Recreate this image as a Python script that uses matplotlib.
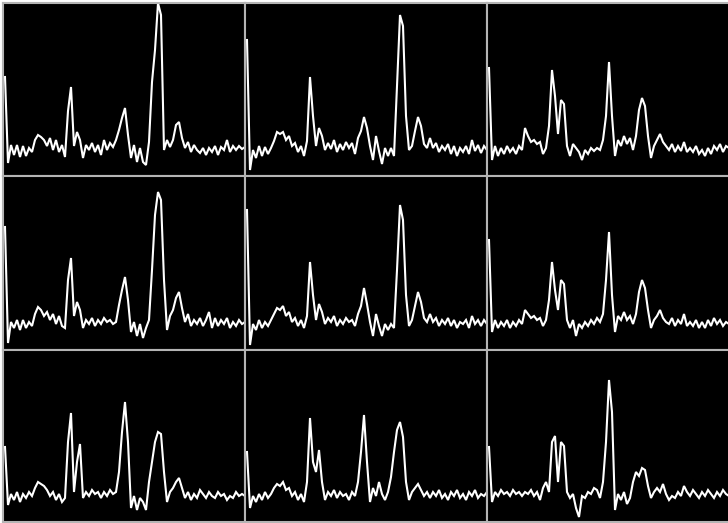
import numpy as np
import matplotlib
matplotlib.use("Agg")
import matplotlib.pyplot as plt

# heights of each trace above the bottom of its panel, one value every 3 px
panel_a = [99, 13, 31, 21, 31, 19, 30, 20, 28, 24, 36, 41, 39, 36, 30, 38, 26, 36, 24, 31,
           19, 65, 89, 30, 44, 36, 18, 31, 26, 33, 24, 31, 21, 36, 26, 33, 29, 36, 46, 58,
           68, 41, 18, 31, 14, 28, 14, 11, 34, 94, 126, 173, 161, 26, 36, 29, 36, 51, 54, 38,
           28, 34, 24, 31, 26, 23, 28, 21, 28, 24, 30, 21, 29, 26, 36, 24, 30, 26, 30, 27, 29]
panel_b = [136, 6, 26, 18, 30, 20, 29, 22, 28, 35, 44, 42, 44, 36, 40, 30, 33, 24, 30, 20,
           35, 99, 60, 30, 48, 40, 26, 33, 27, 36, 24, 32, 26, 34, 28, 33, 22, 38, 45, 59,
           48, 30, 16, 40, 25, 12, 28, 20, 28, 20, 90, 161, 150, 60, 26, 30, 45, 59, 50, 32,
           28, 38, 28, 33, 24, 30, 26, 32, 22, 30, 20, 28, 24, 30, 22, 36, 25, 31, 23, 30, 26]
panel_c = [108, 16, 30, 20, 28, 22, 30, 24, 28, 22, 30, 26, 48, 40, 34, 36, 32, 34, 22, 28,
           50, 106, 80, 42, 76, 72, 30, 20, 32, 28, 24, 16, 26, 22, 28, 25, 28, 26, 36, 60,
           114, 60, 20, 36, 30, 40, 32, 38, 26, 40, 66, 78, 70, 40, 18, 30, 36, 42, 34, 30,
           26, 32, 24, 30, 25, 34, 24, 28, 24, 30, 22, 26, 20, 28, 22, 30, 26, 32, 24, 30, 28]
panel_d = [123, 7, 28, 22, 30, 20, 30, 22, 28, 24, 36, 43, 40, 34, 38, 30, 36, 26, 34, 24,
           22, 70, 92, 34, 48, 40, 22, 30, 26, 32, 24, 30, 26, 32, 28, 30, 26, 28, 45, 60,
           73, 50, 18, 28, 14, 26, 12, 22, 30, 80, 135, 158, 150, 70, 20, 34, 40, 52, 58, 42,
           28, 36, 24, 30, 26, 32, 24, 30, 38, 22, 32, 24, 30, 26, 32, 22, 28, 24, 30, 26, 28]
panel_e = [140, 5, 26, 20, 30, 22, 28, 24, 30, 36, 42, 40, 44, 34, 38, 28, 32, 24, 30, 22,
           34, 88, 55, 30, 46, 38, 26, 32, 28, 34, 24, 30, 26, 32, 28, 30, 24, 36, 44, 62,
           46, 28, 14, 36, 24, 14, 26, 20, 26, 22, 80, 145, 130, 55, 24, 30, 44, 58, 48, 32,
           28, 36, 28, 32, 24, 30, 26, 32, 24, 30, 22, 28, 26, 30, 22, 34, 26, 30, 24, 30, 26]
panel_f = [110, 18, 30, 22, 28, 24, 30, 22, 28, 24, 30, 26, 40, 36, 32, 34, 30, 32, 24, 30,
           50, 88, 60, 40, 70, 66, 30, 22, 30, 14, 26, 22, 28, 24, 30, 26, 32, 28, 36, 70,
           118, 55, 18, 34, 30, 38, 30, 34, 26, 36, 58, 70, 62, 40, 22, 30, 34, 40, 32, 28,
           26, 32, 24, 30, 26, 36, 24, 28, 24, 30, 22, 28, 22, 30, 24, 32, 26, 30, 24, 28, 26]
panel_g = [75, 17, 28, 22, 30, 20, 28, 24, 30, 26, 34, 40, 38, 36, 32, 26, 30, 22, 28, 20,
           24, 80, 109, 30, 60, 78, 24, 30, 26, 32, 28, 30, 24, 30, 26, 32, 28, 30, 50, 90,
           120, 80, 14, 26, 12, 24, 20, 12, 40, 60, 80, 90, 88, 50, 20, 30, 34, 40, 44, 34,
           24, 30, 22, 28, 24, 32, 28, 24, 30, 26, 24, 30, 26, 28, 22, 26, 24, 30, 26, 28, 26]
panel_h = [70, 14, 26, 20, 28, 22, 30, 24, 28, 34, 38, 36, 40, 32, 34, 26, 30, 22, 28, 20,
           40, 104, 60, 50, 72, 40, 22, 30, 26, 32, 24, 30, 26, 28, 22, 30, 26, 40, 70, 107,
           60, 20, 34, 26, 40, 28, 22, 30, 45, 70, 92, 100, 85, 40, 22, 30, 34, 38, 32, 26,
           30, 24, 30, 26, 32, 24, 28, 22, 30, 26, 32, 24, 28, 22, 30, 26, 32, 24, 28, 26, 30]
panel_i = [75, 20, 30, 26, 32, 28, 30, 26, 32, 28, 30, 26, 30, 28, 32, 26, 30, 22, 34, 40,
           30, 80, 86, 40, 80, 76, 30, 24, 28, 14, 5, 26, 24, 30, 28, 34, 32, 24, 40, 80,
           142, 110, 12, 28, 22, 30, 18, 24, 40, 50, 46, 54, 52, 36, 24, 30, 34, 30, 38, 28,
           22, 26, 24, 30, 26, 36, 30, 26, 32, 28, 24, 30, 26, 32, 28, 24, 30, 26, 32, 28, 26]

panels = [[panel_a, panel_b, panel_c],
          [panel_d, panel_e, panel_f],
          [panel_g, panel_h, panel_i]]

col_edges = [(3, 245), (245, 487), (487, 728)]
col_start = [5, 247, 489]
row_height = [173, 174, 172]

fig, axes = plt.subplots(3, 3, figsize=(7.28, 5.23), dpi=100,
                         gridspec_kw=dict(width_ratios=[242, 242, 241],
                                          height_ratios=row_height))
fig.patch.set_facecolor("white")
fig.subplots_adjust(left=3/728, right=1.0, top=1-3/523, bottom=1/523,
                    wspace=0, hspace=0)

for r in range(3):
    for c in range(3):
        ax = axes[r, c]
        vals = np.array(panels[r][c])
        x = col_start[c] + 3*np.arange(len(vals))
        ax.plot(x, vals, color="white", lw=1.5, solid_joinstyle="miter")
        ax.set_facecolor("black")
        ax.set_xlim(*col_edges[c])
        ax.set_ylim(0, row_height[r])
        ax.set_xticks([])
        ax.set_yticks([])
        for s in ax.spines.values():
            s.set_color("#b4b4b4")
            s.set_linewidth(1.5)
        if c == 2:
            ax.spines["right"].set_visible(False)

fig.savefig("out.png", dpi=100, facecolor="white")
